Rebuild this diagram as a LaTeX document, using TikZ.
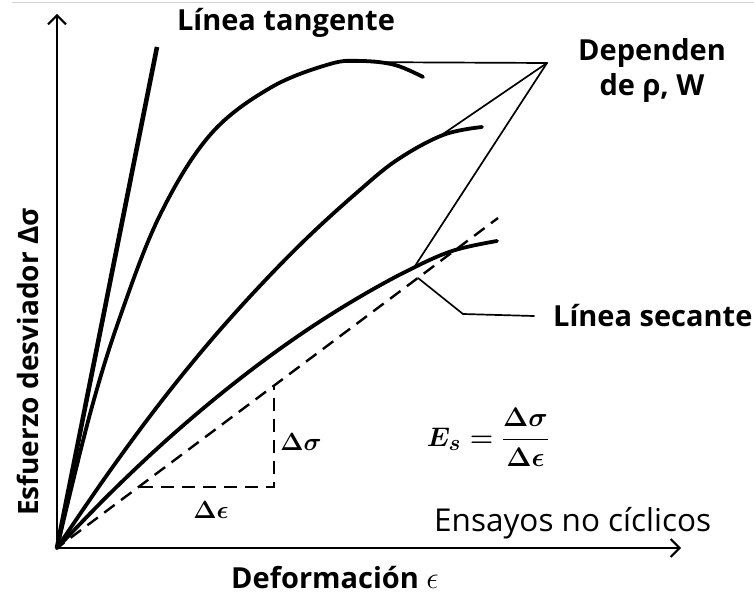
\documentclass[tikz,border=0pt]{standalone}
\usepackage{fontspec}
\setmainfont{Open Sans}
\usetikzlibrary{arrows.meta}
\begin{document}
\begin{tikzpicture}[x=1pt,y=-1pt,
  crv/.style={line width=3.8pt, line cap=round, line join=round},
  thinln/.style={line width=1.7pt, line cap=round},
  axisln/.style={line width=2pt, -{Straight Barb[length=9pt,width=18pt,line width=2pt]}},
  dsh/.style={line width=2.4pt, dash pattern=on 13pt off 8pt},
  lbl/.style={font=\bfseries\fontsize{29}{35}\selectfont, inner sep=0pt},
  rlbl/.style={font=\fontsize{31.5}{36}\selectfont, inner sep=0pt},
  mth/.style={font=\Huge\boldmath, inner sep=0pt, scale=1.0},
]
\useasboundingbox (0,0) rectangle (754,596);
\draw[gray!35, line width=1pt] (12,3) -- (754,3);

% named points
\coordinate (O) at (57,548);
\coordinate (Ytip) at (57,14);
\coordinate (Xtip) at (681,548);
\coordinate (T) at (157,47);
\coordinate (P) at (547,63);
\coordinate (K) at (340,62);
\coordinate (S2) at (443,134);
\coordinate (S3) at (415,266);
\coordinate (D) at (498,218);
\coordinate (H) at (140,487);
\coordinate (C) at (274,487);
\coordinate (V) at (274,387);
\coordinate (L1) at (418,278);
\coordinate (L2) at (463,314);
\coordinate (L3) at (534,316);

% axes
\draw[axisln] (O) -- (Ytip);
\draw[axisln] (O) -- (Xtip);

% tangent line
\draw[line width=4.6pt] (O) -- (T);

% curves
\draw[crv] plot[smooth, tension=0.6] coordinates {(O) (90,414) (120,317) (160,215) (210,135) (270,88) (330,64) (362,61) (395,65) (423,77)};
\draw[crv] plot[smooth, tension=0.6] coordinates {(O) (107,475) (157,407) (207,345) (257,289) (307,238) (357,192.5) (397,160) (443,135) (482,127)};
\draw[crv] plot[smooth, tension=0.6] coordinates {(O) (107,496.4) (157,448.7) (207,405.2) (257,365.6) (307,330) (357,298.5) (407,271) (452,251) (497,241)};

% secant construction lines
\draw[thinln] (K) -- (P);
\draw[thinln] (P) -- (S2);
\draw[thinln] (P) -- (S3);

% dashed secant and triangle
\draw[dsh, dash phase=4pt] (O) -- (D);
\draw[dsh] (H) -- (C) -- (V);

% leader to "Línea secante"
\draw[thinln, line join=round] (L1) -- (L2) -- (L3);

% labels
\node[lbl] (tang) at (286,23) {Línea tangente};
\node[lbl, align=center, font=\bfseries\fontsize{29}{35}\selectfont] (dep) at (652,70) {Dependen\\de ρ, W};
\node[lbl, anchor=west] (sec) at (553,316) {Línea secante};
\node[rlbl, anchor=west] (ens) at (434,523) {Ensayos no cíclicos};
\node[lbl] (xlab) at (335,578) {Deformación \scalebox{1.25}{\Huge$\epsilon$}};
\node[lbl, rotate=90, font=\bfseries\fontsize{28}{34}\selectfont] (ylab) at (28,362) {Esfuerzo desviador Δσ};
\node[mth] (ds) at (301,442) {$\Delta\sigma$};
\node[mth] (de) at (211,510) {$\Delta\epsilon$};
\node[mth, scale=1.08] (es) at (488,437) {$E_s=\displaystyle\frac{\Delta\sigma}{\Delta\epsilon}$};
\end{tikzpicture}
\end{document}
